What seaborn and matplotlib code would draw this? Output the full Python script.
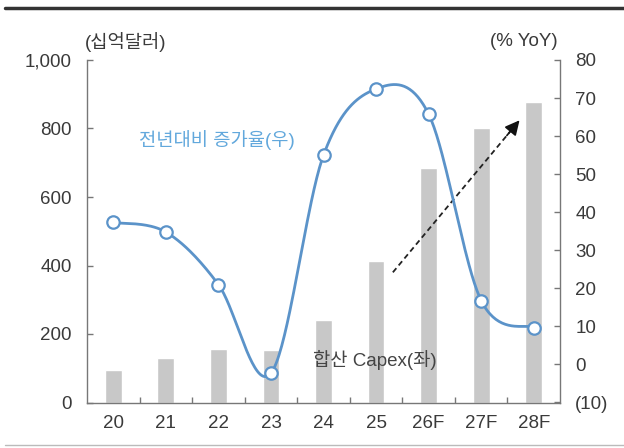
import numpy as np
import pandas as pd
import matplotlib
matplotlib.use("Agg")
import matplotlib.pyplot as plt
from matplotlib.lines import Line2D
import seaborn as sns

# Data
years = ["20", "21", "22", "23", "24", "25", "26F", "27F", "28F"]
capex = [96, 129, 157, 154, 240, 412, 684, 801, 877]          # 십억달러 (left axis)
yoy = [37.3, 34.8, 21.0, -2.3, 55.0, 72.4, 65.8, 16.8, 9.7]   # % YoY (right axis)

left_ticks = [0, 200, 400, 600, 800, 1000]
left_labels = ["0", "200", "400", "600", "800", "1,000"]
right_ticks = [-10, 0, 10, 20, 30, 40, 50, 60, 70, 80]
right_labels = ["(10)", "0", "10", "20", "30", "40", "50", "60", "70", "80"]

sns.set_theme(style="white")
plt.rcParams["font.family"] = ["Liberation Sans", "Noto Sans CJK KR", "DejaVu Sans"]
plt.rcParams["axes.unicode_minus"] = False

FS = 13.5
FS_KR = 13.5
LINE_C = "#5B93C9"
BAR_C = "#C8C8C8"
SPINE_C = "#777777"
TXT_C = "#3A3A3A"

fig = plt.figure(figsize=(6.24, 4.48), dpi=100)
ax = fig.add_axes([87 / 624, 1 - 402.5 / 448, (560 - 87) / 624, (402.5 - 60) / 448])

df = pd.DataFrame({"year": years, "capex": capex})
sns.barplot(data=df, x="year", y="capex", color=BAR_C, width=0.32,
            saturation=1, ax=ax, zorder=2)

ax.set_xlim(-0.5, len(years) - 0.5)
ax.set_ylim(0, 1000)
ax.set_xlabel("")
ax.set_ylabel("")
ax.set_yticks(left_ticks)
ax.set_yticklabels(left_labels)
ax.tick_params(axis="y", direction="in", length=4, width=1, color=SPINE_C,
               pad=11, labelsize=FS, labelcolor=TXT_C)
ax.set_xticks(range(len(years)))
ax.set_xticklabels(years)
ax.tick_params(axis="x", which="major", length=0, pad=9, labelsize=FS,
               labelcolor=TXT_C)
ax.set_xticks(np.arange(0.5, len(years) - 1, 1.0), minor=True)
ax.tick_params(axis="x", which="minor", direction="in", length=4, width=1,
               color=SPINE_C, bottom=True)

for side in ["left", "bottom", "right"]:
    ax.spines[side].set_color(SPINE_C)
    ax.spines[side].set_linewidth(1)
ax.spines["top"].set_visible(False)

# Dashed trend arrow
x0, y0 = 5.32, 380
x1, y1 = 7.73, 824
ax.plot([x0, x0 + (x1 - x0) * 0.95], [y0, y0 + (y1 - y0) * 0.95],
        linestyle=(0, (3, 2)), color="#222222", lw=1.3, zorder=4)
ax.annotate("", xy=(x1, y1),
            xytext=(x0 + (x1 - x0) * 0.9, y0 + (y1 - y0) * 0.9),
            arrowprops=dict(arrowstyle="-|>", color="#111111", lw=1.2,
                            mutation_scale=22, shrinkA=0, shrinkB=0),
            zorder=5)

ax.text(3.8, 123, "합산 Capex(좌)", fontsize=FS_KR, color="#444444",
        ha="left", va="center", zorder=6)

# Right axis: year-on-year growth, smoothed line
ax2 = ax.twinx()
ax2.set_ylim(-10, 80)
ax2.set_yticks(right_ticks)
ax2.set_yticklabels(right_labels)
ax2.tick_params(axis="y", direction="in", length=4, width=1, color=SPINE_C,
                pad=11, labelsize=FS, labelcolor=TXT_C)
for side in ["left", "bottom", "right", "top"]:
    ax2.spines[side].set_visible(False)
ax2.grid(False)


def catmull_rom(xs, ys, n=40):
    px = np.concatenate([[xs[0]], xs, [xs[-1]]])
    py = np.concatenate([[ys[0]], ys, [ys[-1]]])
    outx, outy = [], []
    t = np.linspace(0, 1, n)
    for i in range(1, len(px) - 2):
        for p, out in ((px, outx), (py, outy)):
            p0, p1, p2, p3 = p[i - 1], p[i], p[i + 1], p[i + 2]
            seg = 0.5 * ((2 * p1) + (-p0 + p2) * t
                         + (2 * p0 - 5 * p1 + 4 * p2 - p3) * t ** 2
                         + (-p0 + 3 * p1 - 3 * p2 + p3) * t ** 3)
            out.extend(seg if i == 1 else seg[1:])
    return np.array(outx), np.array(outy)


xpos = np.arange(len(years), dtype=float)
sx, sy = catmull_rom(xpos, np.array(yoy))
ax2.plot(sx, sy, color=LINE_C, lw=2.0, zorder=3, solid_capstyle="round")
sns.scatterplot(x=xpos, y=yoy, ax=ax2, s=80, facecolor="white",
                edgecolor=LINE_C, linewidth=1.6, zorder=4, legend=False)

ax2.text(0.49, 59, "전년대비 증가율(우)", fontsize=FS_KR, color="#62A8DC",
         ha="left", va="center")

# Unit labels above the axes
fig.text(85 / 624, 1 - 42 / 448, "(십억달러)", fontsize=FS_KR, color=TXT_C,
         ha="left", va="center")
fig.text(558 / 624, 1 - 42 / 448, "(% YoY)", fontsize=FS, color=TXT_C,
         ha="right", va="center")

# Frame rules
fig.add_artist(Line2D([0.008, 1.0], [1 - 8 / 448, 1 - 8 / 448],
                      color="#333333", lw=2.5, transform=fig.transFigure))
fig.add_artist(Line2D([0.008, 1.0], [1 - 445 / 448, 1 - 445 / 448],
                      color="#BBBBBB", lw=1.0, transform=fig.transFigure))

fig.savefig("out.png", dpi=100)
